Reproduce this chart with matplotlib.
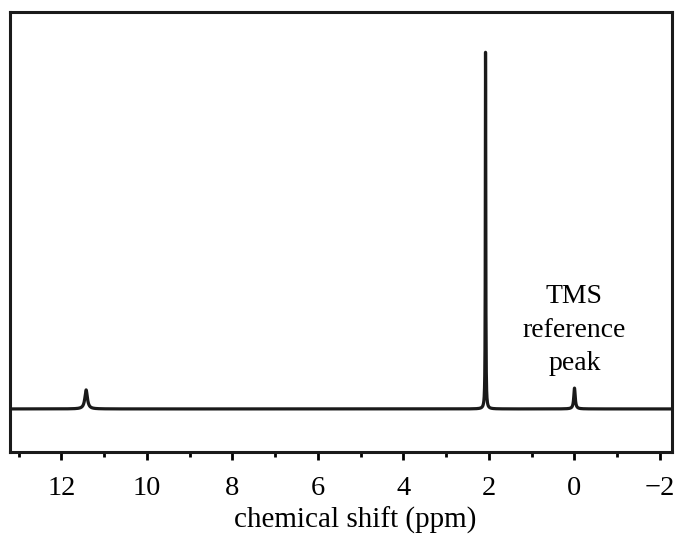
import numpy as np
import matplotlib.pyplot as plt
from matplotlib.ticker import MultipleLocator

# peak list: position (ppm), relative height, half width (ppm)
peak_ppm = [11.42, 2.08, 0.0]
peak_height = [0.053, 1.0, 0.058]
peak_hwhm = [0.035, 0.006, 0.02]

plt.rcParams['font.family'] = ['Liberation Serif', 'DejaVu Serif']

ppm = np.linspace(13.3, -2.4, 6000)
spec = np.zeros_like(ppm)
for p, h, w in zip(peak_ppm, peak_height, peak_hwhm):
    spec += h * w**2 / ((ppm - p)**2 + w**2)

fig = plt.figure(figsize=(6.77, 5.34), dpi=100)
ax = fig.add_axes([10/677, (534-452)/534, 662/677, 440/534])
ax.plot(ppm, spec, color='#1a1a1a', lw=2.3)

ticks = np.arange(12, -3, -2)
ax.set_xticks(ticks)
ax.set_xticklabels(['\u2212%d' % -t if t < 0 else '%d' % t for t in ticks])
ax.xaxis.set_minor_locator(MultipleLocator(1))
ax.set_xlim(13.2, -2.28)
ax.set_ylim(-0.12, 1.106)
ax.set_yticks([])
ax.tick_params(axis='x', which='major', length=6, width=2, labelsize=20.5, pad=11, direction='out')
ax.tick_params(axis='x', which='minor', length=3.5, width=2, direction='out')
for s in ax.spines.values():
    s.set_linewidth(2.2)
    s.set_color('#1a1a1a')

fig.text(355/677, (534-528)/534, 'chemical shift (ppm)', ha='center', va='baseline', fontsize=21)

ax.annotate('TMS\nreference\npeak', xy=(peak_ppm[2], peak_height[2]), xytext=(0, 13),
            textcoords='offset points', ha='center', va='baseline', fontsize=20,
            linespacing=1.45)

fig.savefig('out.png', dpi=100)
